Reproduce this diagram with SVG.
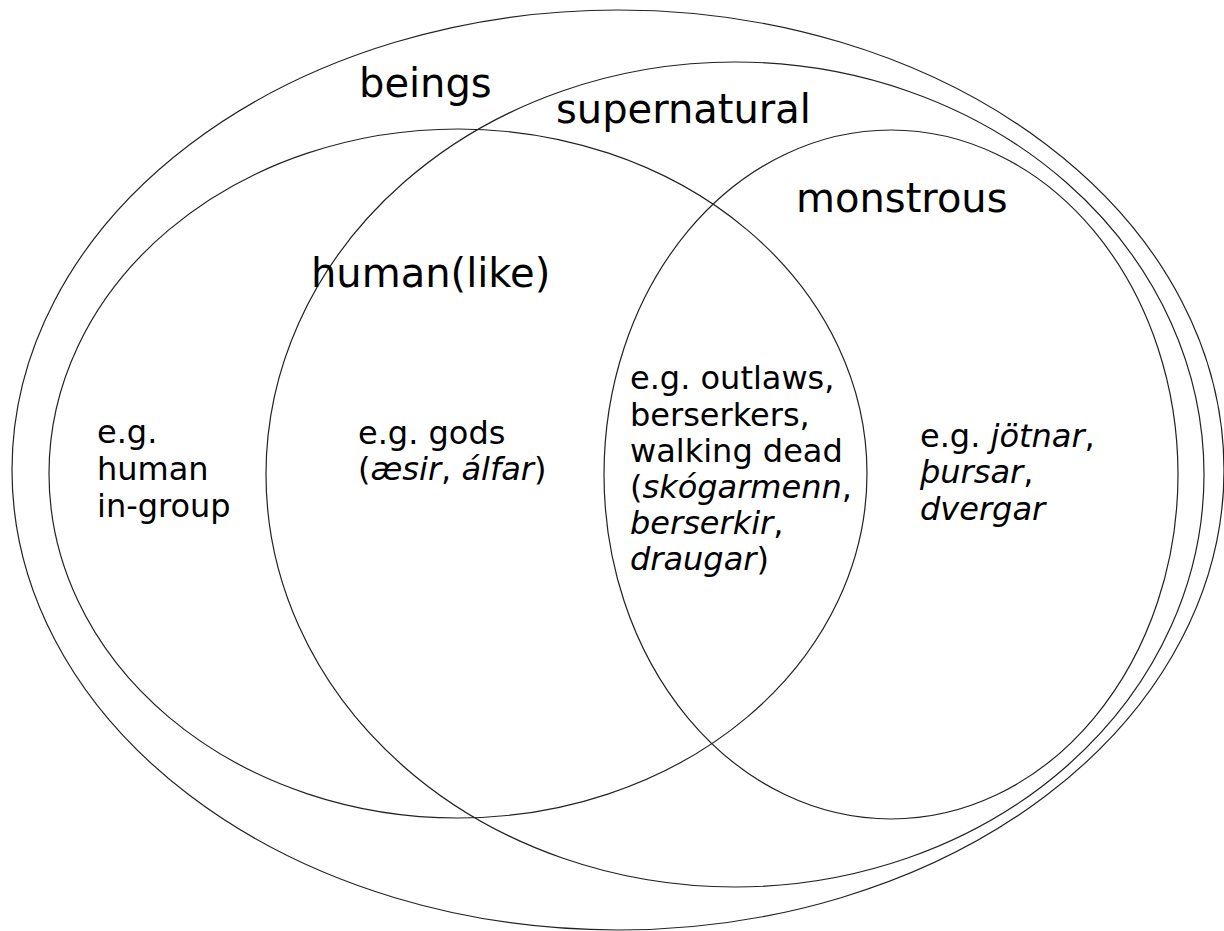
<svg xmlns="http://www.w3.org/2000/svg" width="1224" height="931" viewBox="0 0 1224 931">
<style>
.set{fill:none;stroke:#222;stroke-width:1.2}
.h{font-family:"DejaVu Sans",sans-serif;font-size:40px;fill:#000}
.t{font-family:"DejaVu Sans",sans-serif;font-size:32px;fill:#000}
.i{font-style:italic}
</style>
<rect width="1224" height="931" fill="#fff"/>
<g id="beings">
<ellipse class="set" cx="618" cy="470" rx="606" ry="460"/>
<text class="h" x="359" y="97">beings</text>
</g>
<g id="supernatural">
<ellipse class="set" cx="735" cy="474.5" rx="469" ry="412.5"/>
<text class="h" x="556" y="123">supernatural</text>
</g>
<g id="humanlike">
<ellipse class="set" cx="458" cy="473.5" rx="409" ry="344.5"/>
<text class="h" x="311" y="287">human(like)</text>
</g>
<g id="monstrous">
<ellipse class="set" cx="891" cy="474.5" rx="287" ry="344.5"/>
<text class="h" x="796" y="212">monstrous</text>
</g>
<g id="ex-human">
<text class="t"><tspan x="97" y="443">e.g.</tspan><tspan x="97" y="480">human</tspan><tspan x="97" y="517">in-group</tspan></text>
</g>
<g id="ex-gods">
<text class="t"><tspan x="358" y="444">e.g. gods</tspan><tspan x="358" y="480">(<tspan class="i">æsir</tspan>, <tspan class="i">álfar</tspan>)</tspan></text>
</g>
<g id="ex-outlaws">
<text class="t"><tspan x="630" y="389">e.g. outlaws,</tspan><tspan x="630" y="426">berserkers,</tspan><tspan x="630" y="462">walking dead</tspan><tspan x="630" y="498">(<tspan class="i">skógarmenn</tspan>,</tspan><tspan x="630" y="534" class="i">berserkir</tspan><tspan>,</tspan><tspan x="630" y="570" class="i">draugar</tspan><tspan>)</tspan></text>
</g>
<g id="ex-jotnar">
<text class="t"><tspan x="920" y="447">e.g. <tspan class="i">jötnar</tspan>,</tspan><tspan x="920" y="483" class="i">þursar</tspan><tspan>,</tspan><tspan x="920" y="520" class="i">dvergar</tspan></text>
</g>
<g id="connectors"></g>
</svg>
